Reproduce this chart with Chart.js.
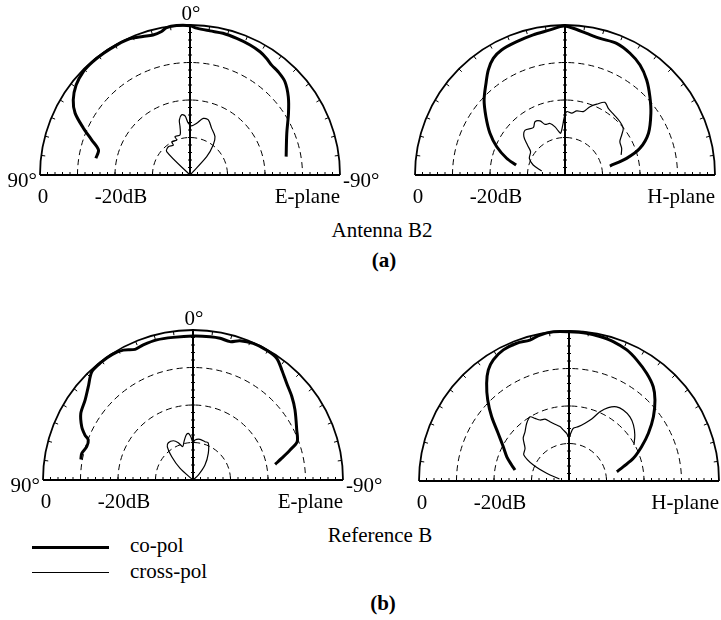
<!DOCTYPE html>
<html>
<head>
<meta charset="utf-8">
<script src="https://cdn.jsdelivr.net/npm/chart.js@4/dist/chart.umd.min.js"></script>
<style>
  body { margin: 0; background: #fff; }
  #page { position: relative; width: 721px; height: 620px; overflow: hidden; font-family: "Liberation Serif", "Times New Roman", serif; font-size: 21px; color: #000; }
  canvas { position: absolute; }
  .txt { position: absolute; line-height: 21px; white-space: nowrap; }
  .center { text-align: center; width: 200px; }
  .bold { font-weight: bold; }
  .line { position: absolute; background: #000; }
</style>
</head>
<body>
<div id="page">
  <canvas id="tl" width="400" height="215" style="left:0;top:0"></canvas>
  <canvas id="tr" width="361" height="215" style="left:360px;top:0"></canvas>
  <canvas id="bl" width="400" height="220" style="left:0;top:300px"></canvas>
  <canvas id="br" width="361" height="220" style="left:360px;top:300px"></canvas>

  <div class="txt center" style="left:282px;top:220px">Antenna B2</div>
  <div class="txt center bold" style="left:284px;top:250px">(a)</div>
  <div class="txt center" style="left:280px;top:525px">Reference B</div>
  <div class="txt center bold" style="left:283px;top:593px">(b)</div>

  <div class="line" style="left:32px;top:546px;width:77px;height:3px"></div>
  <div class="txt" style="left:130px;top:535px">co-pol</div>
  <div class="line" style="left:32px;top:572px;width:77px;height:1px"></div>
  <div class="txt" style="left:130px;top:561px">cross-pol</div>
</div>
<script>
// angles in degrees (positive = towards the 90° side), levels in dB
const dbRange = 40;
const ringDb = [-10, -20, -30];
const scaleDb = [0, -20];
const scaleText = ['0', '-20dB'];

// (a) Antenna B2, E-plane
const aECoAng = [79.9, 74.7, 70.4, 66.2, 61.7, 57.3, 51.7, 45.9, 40.9, 35.2, 29.1, 23.7, 18.8, 14.8, 11.2, 9.0, 5.1, 0, -2.6, -7.9, -13.1, -18.9, -24.8, -29.6, -33.3, -36.6, -40.5, -45.5, -51.5, -57.9, -66.7, -79.2];
const aECoDb = [-14.5, -14.7, -12.2, -8.9, -5.2, -3.0, -1.3, -0.4, -0.2, -0.2, -0.2, -0.3, -1.0, -1.4, -1.0, -0.2, 0, -0.2, -0.8, -1.2, -1.2, -1.5, -1.8, -2.2, -2.8, -3.5, -3.8, -4.5, -6.5, -9.0, -11.9, -13.9];
const aEXAng = [45, 45, 37.5, 29.1, 28.8, 20.8, 21.4, 14, 11.7, 11, 7.9, 4.8, 1.9, -2, -7.4, -13.2, -18.4, -24.9, -33.1, -37.8, -42.4, -45];
const aEXDb = [-40, -31.2, -30.5, -30.9, -29.9, -30, -29, -29, -26.9, -25.1, -23.8, -24.2, -26.2, -26.9, -26.1, -24.5, -24.5, -26.3, -27.8, -29.9, -33.4, -40];

// (a) Antenna B2, H-plane
const aHCoAng = [78.5, 74, 67.5, 60.9, 53.6, 47.2, 40.7, 36.1, 31.6, 26.9, 19.9, 12.8, 5.9, 1.9, 0, -3.2, -8.7, -14.4, -21.4, -28.1, -34.3, -40.7, -47.3, -54.3, -63.4, -70.4, -74.9, -78.7];
const aHCoDb = [-26.7, -23.8, -20.3, -17.1, -13.8, -10.6, -7.7, -5.3, -3.5, -2.6, -2.2, -1.7, -1.1, -0.4, -0.3, -0.8, -1.8, -2.4, -2.3, -3.2, -4.5, -6.6, -9.2, -11.8, -15.1, -18.8, -23.0, -27.8];
const aHXAng = [80.3, 72.5, 64.9, 55.8, 51.5, 47, 41.6, 33.8, 29.4, 24.8, 21.5, 16.2, 11.7, 8.7, 5.9, 2.6, 1, -1.5, -6.2, -10.4, -16.1, -20.1, -24.2, -28.8, -33, -39.2, -45.9, -51.3, -54.8, -58.8, -64.8, -70.3];
const aHXDb = [-33.7, -31.1, -29.5, -28.9, -27.2, -25.0, -24.0, -24.8, -23.7, -24.1, -25.5, -25.7, -26.9, -28.1, -28.8, -26.7, -24.9, -23.1, -23.4, -22.6, -22.4, -20.6, -19.3, -17.9, -18.8, -19.3, -19.6, -20.1, -21.5, -22.9, -23.3, -24.1];

// (b) Reference B, E-plane
const bECoAng = [79.6, 76.5, 72.6, 69.1, 67.4, 64.4, 59.3, 53.5, 48.3, 43.1, 38.2, 32.7, 28.2, 23.9, 20.2, 14.5, 7.9, 0, -6.8, -10.8, -15, -18.6, -23.8, -29.6, -34.5, -38.9, -44.1, -49.8, -55.5, -64.3, -69.8, -72.8, -76.3, -79.2];
const bECoDb = [-9.6, -9.5, -10.3, -10.1, -8.8, -7.1, -5.2, -4.2, -2.6, -0.5, -0.2, -0.2, -0.7, -1.9, -1.6, -1.4, -1.6, -1.6, -1.5, -1.5, -1.8, -0.8, -0.2, -0.2, -0.6, -2.3, -4.1, -5.5, -7.0, -9.3, -10.4, -12.9, -15.7, -17.7];
const bEXAng = [50, 48, 42.4, 37.7, 33.5, 26.6, 21.5, 17.2, 13.2, 8.8, 5.7, 3, 0, -2.9, -9.8, -17.4, -22.3, -29.8, -38.7, -46.7, -45];
const bEXDb = [-40, -35.3, -31.6, -28.8, -28.1, -28.3, -29.3, -30.7, -29.5, -27.9, -27.5, -28.4, -30, -29.3, -29, -29.3, -29.3, -31.8, -34.9, -38, -40];

// (b) Reference B, H-plane
const bHCoAng = [78.5, 74.4, 68.7, 62.4, 56, 50.3, 45.1, 40.1, 36, 32, 26.6, 20.8, 15.5, 11.2, 6, 0, -6.8, -12.1, -17.6, -23.8, -29.2, -35.8, -41.8, -46.7, -52.7, -59, -64.7, -70.6, -75.2, -79];
const bHCoDb = [-25.3, -24.1, -22.2, -20.2, -17.2, -13.2, -9.4, -5.9, -3.4, -1.9, -0.9, -0.7, -1.0, -0.3, 0, -0.2, -0.3, -0.6, -1.0, -1.8, -3.0, -4.6, -6.3, -8.5, -11.7, -15.3, -18.6, -21.8, -25.0, -27.0];
const bHXAng = [78.3, 71, 65.9, 60, 53.4, 47, 41.8, 36.2, 31.2, 28.5, 25.4, 21.2, 17.8, 13.9, 9.4, 6.4, 2.8, 0, -2, -4.7, -9.7, -15.5, -20.1, -24.1, -28.2, -32.7, -37.4, -43.5, -48.9, -55.1, -61];
const bHXDb = [-37.4, -33.7, -29.6, -26.1, -25.4, -23.3, -22.4, -20.9, -20.0, -21.0, -22.0, -22.3, -23.4, -24.4, -25.3, -26.3, -27.3, -28.5, -27.3, -25.9, -25.3, -24.0, -22.4, -19.8, -17.8, -16.5, -16.2, -16.4, -17.2, -18.6, -20.2];

const FONT = '21px "Liberation Serif", "Times New Roman", serif';

// polar (angle, dB) -> x/y in units of the outer radius
function toPoints(angles, levels) {
    return angles.map((a, i) => {
        const r = Math.max(0, (levels[i] + dbRange) / dbRange);
        const t = a * Math.PI / 180;
        return { x: -r * Math.sin(t), y: r * Math.cos(t) };
    });
}

const halfPolar = {
    id: 'halfPolar',
    beforeDatasetsDraw(chart) {
        const { ctx } = chart;
        const xs = chart.scales.x, ys = chart.scales.y;
        const cx = xs.getPixelForValue(0), cy = ys.getPixelForValue(0);
        const R = xs.getPixelForValue(1) - cx;
        ctx.save();
        ctx.strokeStyle = '#000';

        // dashed level rings
        ctx.lineWidth = 1;
        ctx.setLineDash([6, 4]);
        ringDb.forEach(db => {
            ctx.beginPath();
            ctx.arc(cx, cy, R * (db + dbRange) / dbRange, Math.PI, 2 * Math.PI);
            ctx.stroke();
        });
        ctx.setLineDash([]);

        // outer arc, baseline, 0° axis
        ctx.lineWidth = 1.8;
        ctx.beginPath();
        ctx.arc(cx, cy, R, Math.PI, 2 * Math.PI);
        ctx.stroke();
        ctx.lineWidth = 2;
        ctx.beginPath();
        ctx.moveTo(cx - R, cy); ctx.lineTo(cx + R, cy);
        ctx.moveTo(cx, cy); ctx.lineTo(cx, cy - R);
        ctx.stroke();

        // ticks every 2 dB and every 7.5°
        ctx.lineWidth = 1;
        ctx.beginPath();
        for (let db = -38; db <= -2; db += 2) {
            const r = R * (db + dbRange) / dbRange;
            ctx.moveTo(cx - r, cy); ctx.lineTo(cx - r, cy - 3);
            ctx.moveTo(cx + r, cy); ctx.lineTo(cx + r, cy - 3);
            ctx.moveTo(cx - 2, cy - r); ctx.lineTo(cx + 2, cy - r);
        }
        for (let a = -82.5; a <= 82.5; a += 7.5) {
            const t = a * Math.PI / 180;
            ctx.moveTo(cx - R * Math.sin(t), cy - R * Math.cos(t));
            ctx.lineTo(cx - (R - 4) * Math.sin(t), cy - (R - 4) * Math.cos(t));
        }
        ctx.stroke();
        ctx.restore();
    },
    afterDraw(chart, args, opts) {
        const { ctx } = chart;
        const xs = chart.scales.x, ys = chart.scales.y;
        const cx = xs.getPixelForValue(0), cy = ys.getPixelForValue(0);
        const R = xs.getPixelForValue(1) - cx;
        ctx.save();
        ctx.fillStyle = '#000';
        ctx.font = FONT;
        ctx.textBaseline = 'alphabetic';
        if (opts.angleLabels) {
            ctx.textAlign = 'center';
            ctx.fillText('0°', cx + 1, cy - R - 5);
            ctx.textAlign = 'right';
            ctx.fillText('90°', cx - R - 3, cy + 12);
            ctx.textAlign = 'left';
            ctx.fillText('-90°', cx + R + 3, cy + 12);
        }
        ctx.textAlign = 'center';
        scaleDb.forEach((db, i) => {
            const px = xs.getPixelForValue(-(db + dbRange) / dbRange);
            ctx.fillText(scaleText[i], px + (i === 0 ? 3 : 6), cy + 28);
        });
        ctx.textAlign = 'right';
        ctx.fillText(opts.plane, cx + R, cy + 28);
        ctx.restore();
    }
};

function makePlot(id, coAng, coDb, xAng, xDb, padding, plane, angleLabels) {
    const line = {
        showLine: true, borderColor: '#000', pointRadius: 0,
        tension: 0.3, clip: false, fill: false
    };
    return new Chart(document.getElementById(id), {
        type: 'scatter',
        data: {
            datasets: [
                Object.assign({ label: 'co-pol', data: toPoints(coAng, coDb), borderWidth: 3 }, line),
                Object.assign({ label: 'cross-pol', data: toPoints(xAng, xDb), borderWidth: 1.2 }, line)
            ]
        },
        options: {
            responsive: false,
            animation: false,
            devicePixelRatio: 1,
            layout: { padding: padding },
            scales: {
                x: { type: 'linear', min: -1, max: 1, display: false },
                y: { type: 'linear', min: 0, max: 1, display: false }
            },
            plugins: {
                legend: { display: false },
                tooltip: { enabled: false },
                halfPolar: { plane: plane, angleLabels: angleLabels }
            }
        },
        plugins: [halfPolar]
    });
}

makePlot('tl', aECoAng, aECoDb, aEXAng, aEXDb, { left: 40, right: 60, top: 25, bottom: 40 }, 'E-plane', true);
makePlot('tr', aHCoAng, aHCoDb, aHXAng, aHXDb, { left: 55, right: 6, top: 25, bottom: 40 }, 'H-plane', false);
makePlot('bl', bECoAng, bECoDb, bEXAng, bEXDb, { left: 43, right: 57, top: 30, bottom: 40 }, 'E-plane', true);
makePlot('br', bHCoAng, bHCoDb, bHXAng, bHXDb, { left: 59, right: 2, top: 31, bottom: 39 }, 'H-plane', false);
</script>
</body>
</html>
